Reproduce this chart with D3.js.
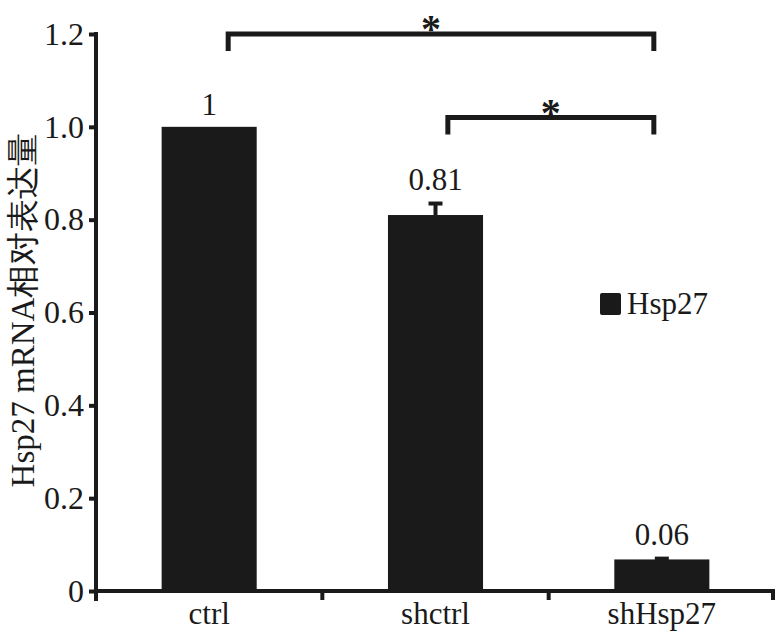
<!DOCTYPE html>
<html>
<head>
<meta charset="utf-8">
<script src="https://cdn.jsdelivr.net/npm/d3@7"></script>
<style>
  body { margin: 0; background: #fff; }
  text { font-family: "Liberation Serif", "DejaVu Serif", serif; fill: #1a1a1a; }
</style>
</head>
<body>
<script>
// data
let categories = ["ctrl", "shctrl", "shHsp27"];
let values = [1, 0.81, 0.068];
let errors = [0, 0.028, 0.005];
let valueLabels = ["1", "0.81", "0.06"];
let yTicks = [0, 0.2, 0.4, 0.6, 0.8, 1.0, 1.2];
let brackets = [
  { from: "ctrl", to: "shHsp27", level: 1.2, starShift: -10 },
  { from: "shctrl", to: "shHsp27", level: 1.02, starShift: 0 }
];

let width = 784;
let height = 640;
let svg = d3.select("body").append("svg")
  .attr("width", width)
  .attr("height", height);

let margin = { left: 96, right: 9, top: 34, bottom: 49 };
let ink = "#1a1a1a";
let fontSize = 31;

let x = d3.scaleBand()
  .domain(categories)
  .range([margin.left, width - margin.right])
  .paddingInner(0.58)
  .paddingOuter(0.29);

let y = d3.scaleLinear()
  .domain([0, 1.2])
  .range([height - margin.bottom, margin.top]);

// bars
svg.append("g").selectAll("rect")
  .data(values)
  .enter()
  .append("rect")
  .attr("x", (d, i) => x(categories[i]))
  .attr("y", d => y(d))
  .attr("width", x.bandwidth())
  .attr("height", d => y(0) - y(d))
  .attr("fill", ink);

// error bars (upper only)
let err = svg.append("g");
values.forEach((v, i) => {
  if (errors[i] <= 0) return;
  let cx = x(categories[i]) + x.bandwidth() / 2;
  err.append("line")
    .attr("x1", cx).attr("x2", cx)
    .attr("y1", y(v)).attr("y2", y(v + errors[i]))
    .attr("stroke", ink).attr("stroke-width", 4);
  err.append("line")
    .attr("x1", cx - 7).attr("x2", cx + 7)
    .attr("y1", y(v + errors[i]) + 1.5).attr("y2", y(v + errors[i]) + 1.5)
    .attr("stroke", ink).attr("stroke-width", 4);
});

// value labels
svg.append("g").selectAll("text")
  .data(values)
  .enter()
  .append("text")
  .attr("x", (d, i) => x(categories[i]) + x.bandwidth() / 2)
  .attr("y", (d, i) => y(d + errors[i]) - 12)
  .attr("text-anchor", "middle")
  .attr("font-size", fontSize)
  .text((d, i) => valueLabels[i]);

// y axis
let yAxis = svg.append("g")
  .attr("transform", `translate(${margin.left},0)`)
  .call(d3.axisLeft(y).tickValues(yTicks).tickSize(7).tickSizeOuter(0)
    .tickFormat(d => d === 0 ? "0" : d3.format(".1f")(d)));
yAxis.select(".domain").attr("stroke", ink).attr("stroke-width", 4)
  .attr("d", `M0,${margin.top - 2}V${y(0) + 10}`);
yAxis.selectAll(".tick line").attr("stroke", ink).attr("stroke-width", 4);
yAxis.selectAll(".tick text")
  .attr("font-size", 32)
  .attr("fill", ink)
  .attr("x", -12);

// x axis
let xAxis = svg.append("g")
  .attr("transform", `translate(0,${y(0)})`)
  .call(d3.axisBottom(x).tickSize(0).tickPadding(11));
xAxis.select(".domain").attr("stroke", ink).attr("stroke-width", 4)
  .attr("d", `M${margin.left},0H${width - margin.right}`);
xAxis.selectAll(".tick text")
  .attr("font-size", fontSize)
  .attr("fill", ink);
// category boundary ticks
xAxis.append("g").selectAll("line")
  .data(categories.slice(1))
  .enter()
  .append("line")
  .attr("x1", d => x(d) - (x.step() - x.bandwidth()) / 2)
  .attr("x2", d => x(d) - (x.step() - x.bandwidth()) / 2)
  .attr("y1", 0).attr("y2", 9)
  .attr("stroke", ink).attr("stroke-width", 4);
xAxis.append("line")
  .attr("x1", width - margin.right - 2).attr("x2", width - margin.right - 2)
  .attr("y1", 0).attr("y2", 9)
  .attr("stroke", ink).attr("stroke-width", 4);

// significance brackets
let br = svg.append("g");
brackets.forEach((b, i) => {
  let xa = x(b.from) + x.bandwidth() * (i === 0 ? 0.7 : 0.63);
  let xb = x(b.to) + x.bandwidth() / 2 - 8;
  let yy = y(b.level);
  br.append("path")
    .attr("d", `M${xa},${yy + 17}V${yy}H${xb}V${yy + 17}`)
    .attr("fill", "none")
    .attr("stroke", ink)
    .attr("stroke-width", 5);
  br.append("text")
    .attr("x", (xa + xb) / 2 + b.starShift)
    .attr("y", yy + 8)
    .attr("text-anchor", "middle")
    .attr("font-size", 40)
    .attr("font-weight", "bold")
    .text("*");
});

// y axis title
svg.append("text")
  .attr("transform", "translate(34,310) rotate(-90)")
  .attr("text-anchor", "middle")
  .attr("font-size", 33)
  .text("Hsp27 mRNA相对表达量");

// legend
let legend = svg.append("g").attr("transform", "translate(600,293)");
legend.append("rect")
  .attr("width", 21).attr("height", 22)
  .attr("rx", 2)
  .attr("fill", ink);
legend.append("text")
  .attr("x", 27).attr("y", 21)
  .attr("font-size", fontSize)
  .text("Hsp27");
</script>
</body>
</html>
